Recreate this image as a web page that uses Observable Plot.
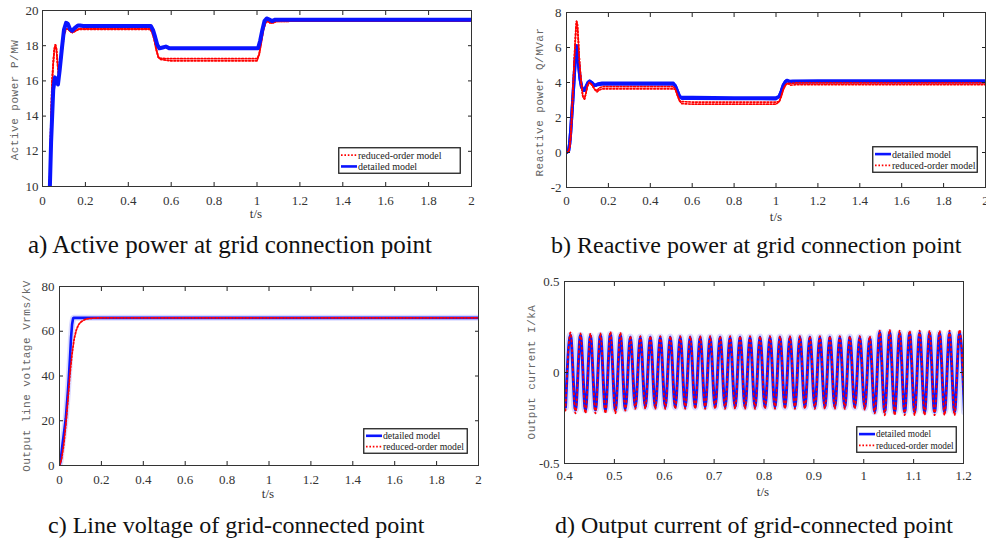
<!DOCTYPE html>
<html><head><meta charset="utf-8">
<script src="https://cdn.jsdelivr.net/npm/d3@7"></script>
<script src="https://cdn.jsdelivr.net/npm/@observablehq/plot@0.6"></script>
<style>
body{margin:0;background:#fff;}
#root{position:relative;width:986px;height:541px;overflow:hidden;background:#fff;font-family:"Liberation Serif","Times New Roman",serif;}
.panel{position:absolute;}
.panel svg{overflow:visible;}
.ylab{position:absolute;font-family:"Liberation Mono","DejaVu Sans Mono",monospace;font-size:11px;letter-spacing:0.5px;color:#666;white-space:nowrap;transform:translate(-50%,-50%) rotate(-90deg);}
.xlab{position:absolute;font-size:13px;color:#333;transform:translate(-50%,-50%);white-space:nowrap;}
.cap{position:absolute;font-size:24px;color:#111;white-space:nowrap;transform:translateY(-50%);}
.leg{position:absolute;}
</style></head>
<body>
<div id="root"></div>
<script>
// ---------- Panel a: active power ----------
const aTimeDetailed = [0.03,0.04,0.05,0.058,0.066,0.072,0.08,0.09,0.1,0.11,0.118,0.128,0.138,0.15,0.165,0.175,0.19,0.3,0.4,0.505,0.515,0.525,0.535,0.545,0.56,0.575,0.59,0.7,0.8,0.9,1.005,1.015,1.025,1.035,1.045,1.055,1.07,1.085,1.1,1.5,2.0];
const aDetailed     = [8,12.5,15.5,16.2,15.9,15.8,16.6,17.8,18.9,19.3,19.25,18.95,18.85,19.0,19.15,19.15,19.12,19.12,19.12,19.12,18.9,18.5,18.05,17.85,17.9,17.95,17.86,17.86,17.86,17.86,17.86,18.3,18.9,19.4,19.55,19.5,19.4,19.48,19.48,19.48,19.48];
const aTimeReduced  = [0.028,0.035,0.04,0.045,0.05,0.055,0.06,0.065,0.07,0.075,0.08,0.09,0.1,0.11,0.12,0.13,0.14,0.155,0.17,0.3,0.4,0.5,0.51,0.52,0.53,0.54,0.55,0.6,0.7,0.8,0.9,1.0,1.01,1.02,1.03,1.04,1.05,1.06,1.075,1.09,1.2,2.0];
const aReduced      = [8,11,14.0,16.0,17.0,17.8,18.05,17.8,17.0,16.4,16.5,17.6,18.6,18.95,18.95,18.8,18.75,18.85,18.95,18.95,18.95,18.95,18.8,18.4,17.8,17.35,17.25,17.2,17.2,17.2,17.2,17.2,17.5,18.2,18.9,19.3,19.4,19.3,19.3,19.38,19.4,19.4];
const aRippleReduced= [0,0,0,0,0,0,0,0,0,0,0,0,0,0,0,0,0,0,0.02,0.02,0.02,0.02,0,0,0,0,0.03,0.06,0.06,0.06,0.06,0.06,0,0,0,0,0,0,0,0,0,0];

// ---------- Panel b: reactive power ----------
const bTimeDetailed = [0,0.01,0.015,0.02,0.025,0.03,0.035,0.04,0.045,0.048,0.052,0.058,0.065,0.072,0.08,0.086,0.095,0.103,0.11,0.12,0.13,0.138,0.15,0.17,0.3,0.4,0.51,0.52,0.53,0.54,0.55,0.6,0.8,1.0,1.015,1.025,1.035,1.045,1.053,1.065,1.08,1.2,2.0];
const bDetailed     = [0,0.1,0.5,1.2,2.1,3.0,4.0,5.0,5.8,6.1,5.9,5.0,4.2,3.75,3.55,3.55,3.8,4.0,4.08,4.0,3.88,3.83,3.9,3.93,3.93,3.93,3.93,3.8,3.5,3.2,3.12,3.12,3.1,3.1,3.2,3.5,3.85,4.05,4.12,4.05,4.05,4.06,4.06];
const bRippleDetailed=[0,0,0,0,0,0,0,0,0,0,0,0,0,0,0,0,0,0,0,0,0,0,0.02,0.03,0.03,0.03,0.03,0,0,0,0.03,0.03,0.03,0.03,0,0,0,0,0,0.02,0.03,0.03,0.03];
const bTimeReduced  = [0,0.01,0.015,0.02,0.025,0.03,0.035,0.04,0.045,0.048,0.052,0.056,0.062,0.07,0.078,0.086,0.093,0.1,0.108,0.115,0.125,0.135,0.146,0.155,0.17,0.3,0.4,0.51,0.52,0.53,0.54,0.55,0.6,0.8,1.0,1.015,1.025,1.035,1.045,1.055,1.07,1.1,2.0];
const bReduced      = [0,0.05,0.3,0.9,2.0,3.3,4.7,6.0,7.1,7.5,7.3,6.5,5.2,4.0,3.2,3.05,3.4,3.8,4.0,3.95,3.8,3.6,3.5,3.62,3.7,3.7,3.7,3.7,3.6,3.25,2.95,2.85,2.82,2.82,2.82,2.9,3.2,3.6,3.85,3.95,3.9,3.93,3.93];
const bRippleReduced= [0,0,0,0,0,0,0,0,0,0,0,0,0,0,0,0,0,0,0,0,0,0,0.04,0.06,0.06,0.06,0.06,0.06,0,0,0,0.06,0.06,0.06,0.06,0,0,0,0,0,0.05,0.05,0.05];

// ---------- Panel c: line voltage ----------
const cTimeDetailed = [0,0.005,0.01,0.015,0.02,0.03,0.04,0.045,0.05,0.055,0.06,0.065,0.068,0.1,0.5,1.0,2.0];
const cDetailed     = [0,2,6,10,13.5,21,33,40,48,57,63,65.8,66,66,66,66,66];
const cTimeReduced  = [0,0.01,0.02,0.03,0.04,0.05,0.06,0.07,0.08,0.09,0.1,0.12,0.14,0.17,0.2,1.0,2.0];
const cReduced      = [0,3,9,18,29,41,50,56.5,60.5,62.8,64,65.2,65.7,65.9,66,66,66];

// ---------- Panel d: output current (extrema of each half cycle) ----------
const dFirstExtremumTime = 0.402;   // first trough
const dHalfPeriod = 0.01;           // 50 Hz
const dTroughsDetailed = [-0.19,
  -0.205,-0.205,-0.205,-0.205,-0.205,
  -0.2,
  -0.19,-0.19,-0.19,-0.19,-0.19,-0.19,-0.19,-0.19,-0.19,-0.19,-0.19,-0.19,
  -0.19,-0.19,-0.19,-0.19,-0.19,-0.19,-0.19,-0.19,-0.19,-0.19,-0.19,-0.195,
  -0.215,
  -0.215,-0.215,-0.215,-0.215,-0.215,-0.215,-0.215,-0.215,-0.215];
const dPeaksDetailed = [0.205,0.205,0.2,0.205,0.21,0.205,
  0.195,0.195,0.195,0.195,0.195,0.195,0.195,0.195,0.195,0.195,0.195,0.195,
  0.195,0.195,0.195,0.195,0.195,0.195,0.195,0.195,0.195,0.195,0.195,0.195,0.19,
  0.22,0.22,0.215,0.215,0.215,0.215,0.215,0.215,0.215];
const dTroughsReduced = [-0.21,
  -0.225,-0.225,-0.225,-0.225,-0.225,
  -0.21,
  -0.2,-0.2,-0.2,-0.2,-0.2,-0.2,-0.2,-0.2,-0.2,-0.2,-0.2,-0.2,
  -0.2,-0.2,-0.2,-0.2,-0.2,-0.2,-0.2,-0.2,-0.2,-0.2,-0.2,-0.205,
  -0.225,
  -0.235,-0.235,-0.235,-0.235,-0.235,-0.235,-0.235,-0.235,-0.235];
const dPeaksReduced = [0.22,0.215,0.215,0.215,0.225,0.22,
  0.2,0.2,0.2,0.2,0.2,0.2,0.2,0.2,0.2,0.2,0.2,0.2,
  0.2,0.2,0.2,0.2,0.2,0.2,0.2,0.2,0.2,0.2,0.2,0.2,0.2,
  0.23,0.235,0.23,0.23,0.23,0.23,0.23,0.23,0.235];

// ---------- ticks & labels ----------
const xTicks02 = [0,0.2,0.4,0.6,0.8,1,1.2,1.4,1.6,1.8,2];
const xTicksD  = [0.4,0.5,0.6,0.7,0.8,0.9,1,1.1,1.2];
const yTicksA = [10,12,14,16,18,20];
const yTicksB = [-2,0,2,4,6,8];
const yTicksC = [0,20,40,60,80];
const yTicksD = [-0.5,0,0.5];
const seriesNames = {detailed: "detailed model", reduced: "reduced-order model"};
const yLabels = ["Active power P/MW","Reactive power Q/MVar","Output line voltage Vrms/kV","Output current I/kA"];
const captions = ["a) Active power at grid connection point","b) Reactive power at grid connection point","c) Line voltage of grid-connected point","d) Output current of grid-connected point"];

const BLUE = "#0a14ff", RED = "#ff0000";
const RED_DASH = "1.6,1.8";
const root = document.getElementById("root");

function rows(ts, vs, rs) { return ts.map((t, i) => ({t, v: vs[i], r: rs ? rs[i] : 0})); }
function waveRows(troughs, peaks) {
  const out = [];
  for (let i = 0; i < troughs.length + peaks.length; i++) {
    const v = i % 2 === 0 ? troughs[i / 2] : peaks[(i - 1) / 2];
    out.push({t: dFirstExtremumTime + i * dHalfPeriod, v, r: 0});
  }
  return out;
}

function makePanel(cfg) {
  const fmt = d => String(d);
  const marks = [];
  const lineOpts = {x: "t", clip: true, curve: cfg.curve || "linear"};
  const drawSeries = (data, style) => {
    if (data.some(d => d.r > 0)) {
      marks.push(Plot.line(data, {...lineOpts, y: d => d.v + d.r, ...style}));
      marks.push(Plot.line(data, {...lineOpts, y: d => d.v - d.r, ...style}));
    } else {
      marks.push(Plot.line(data, {...lineOpts, y: "v", ...style}));
    }
  };
  const blue = () => {
    if (cfg.halo) marks.push(Plot.line(cfg.det, {...lineOpts, y: "v", stroke: "#7070ff", strokeOpacity: 0.25, strokeWidth: cfg.halo}));
    drawSeries(cfg.det, {stroke: BLUE, strokeWidth: cfg.blueWidth || 3.5});
  };
  const red = () => drawSeries(cfg.red, {stroke: RED, strokeWidth: cfg.redWidth || 1.7, strokeDasharray: cfg.redDash || RED_DASH});
  if (cfg.redFirst) { red(); blue(); } else { blue(); red(); }
  marks.push(
    Plot.axisX(cfg.xTicks, {anchor: "bottom", tickSize: -4, tickPadding: cfg.xPad, tickFormat: fmt, label: null, stroke: "#222"}),
    Plot.axisX(cfg.xTicks, {anchor: "top", tickSize: -4, tickFormat: () => "", label: null, stroke: "#222"}),
    Plot.axisY(cfg.yTicks, {anchor: "left", tickSize: -4, tickPadding: cfg.yPad, tickFormat: fmt, label: null, stroke: "#222"}),
    Plot.axisY(cfg.yTicks, {anchor: "right", tickSize: -4, tickFormat: () => "", label: null, stroke: "#222"}),
    Plot.frame({stroke: "#333", strokeWidth: 1})
  );
  const chart = Plot.plot({
    width: cfg.w, height: cfg.h,
    marginLeft: cfg.m[0], marginRight: cfg.m[1], marginTop: cfg.m[2], marginBottom: cfg.m[3],
    x: {domain: cfg.xDomain},
    y: {domain: cfg.yDomain},
    style: {fontFamily: "'Liberation Serif','Times New Roman',serif", fontSize: "13px", color: "#333", background: "transparent", overflow: "visible"},
    marks
  });
  const div = document.createElement("div");
  div.className = "panel";
  div.style.left = cfg.left + "px"; div.style.top = cfg.top + "px";
  div.appendChild(chart);
  root.appendChild(div);
}

function addText(cls, text, x, y, size) {
  const d = document.createElement("div");
  d.className = cls; d.textContent = text;
  d.style.left = x + "px"; d.style.top = y + "px";
  if (size) d.style.fontSize = size + "px";
  root.appendChild(d);
}

function addLegend(box, order, fontSize) {
  const [x, y, w, h] = box;
  const svg = d3.create("svg").attr("width", w).attr("height", h).attr("class", "leg")
    .style("left", x + "px").style("top", y + "px");
  svg.append("rect").attr("x", 0.75).attr("y", 0.75).attr("width", w - 1.5).attr("height", h - 1.5)
    .attr("fill", "#fff").attr("stroke", "#222").attr("stroke-width", 1.3);
  order.forEach((key, i) => {
    const cy = h * (i === 0 ? 0.3 : 0.72);
    const line = svg.append("line").attr("x1", 3).attr("x2", 19).attr("y1", cy).attr("y2", cy);
    if (key === "detailed") line.attr("stroke", BLUE).attr("stroke-width", 2.6);
    else line.attr("stroke", RED).attr("stroke-width", 1.8).attr("stroke-dasharray", RED_DASH);
    svg.append("text").attr("x", 20).attr("y", cy).attr("dy", "0.35em")
      .attr("font-family", "'Liberation Serif','Times New Roman',serif").attr("font-size", fontSize)
      .attr("fill", "#222").text(seriesNames[key]);
  });
  root.appendChild(svg.node());
}

// Panel a (reduced-order plotted first, detailed on top)
makePanel({left: 0, top: 0, w: 480, h: 222, m: [42, 9, 10, 36], xDomain: [0, 2], yDomain: [10, 20],
  xTicks: xTicks02, yTicks: yTicksA, xPad: 13, yPad: 8, blueWidth: 4, redWidth: 1.8, redFirst: true,
  det: rows(aTimeDetailed, aDetailed), red: rows(aTimeReduced, aReduced, aRippleReduced)});
// Panel b
makePanel({left: 500, top: 0, w: 486, h: 222, m: [66, 1, 12, 35], xDomain: [0, 2], yDomain: [-2, 8],
  xTicks: xTicks02, yTicks: yTicksB, xPad: 12, yPad: 9, blueWidth: 3.2, redWidth: 1.7,
  det: rows(bTimeDetailed, bDetailed, bRippleDetailed), red: rows(bTimeReduced, bReduced, bRippleReduced)});
// Panel c
makePanel({left: 0, top: 270, w: 486, h: 222, m: [59, 8, 16, 27], xDomain: [0, 2], yDomain: [0, 80],
  xTicks: xTicks02, yTicks: yTicksC, xPad: 13, yPad: 9, blueWidth: 2.6, halo: 6, redWidth: 1.8,
  det: rows(cTimeDetailed, cDetailed), red: rows(cTimeReduced, cReduced)});
// Panel d
makePanel({left: 500, top: 270, w: 486, h: 222, m: [64, 23, 11, 29], xDomain: [0.4, 1.2], yDomain: [-0.5, 0.5],
  xTicks: xTicksD, yTicks: yTicksD, xPad: 11, yPad: 9, blueWidth: 3, halo: 7, curve: "monotone-x",
  redWidth: 1.7, redDash: "1.6,3.2",
  det: waveRows(dTroughsDetailed, dPeaksDetailed), red: waveRows(dTroughsReduced, dPeaksReduced)});

// axis labels
addText("ylab", yLabels[0], 15, 100);
addText("ylab", yLabels[1], 540, 102);
addText("ylab", yLabels[2], 27, 376);
addText("ylab", yLabels[3], 532, 372);
addText("xlab", "t/s", 256, 214);
addText("xlab", "t/s", 776, 217);
addText("xlab", "t/s", 268, 494);
addText("xlab", "t/s", 763, 492);
// captions
addText("cap", captions[0], 28, 245, 25);
addText("cap", captions[1], 551, 245);
addText("cap", captions[2], 48, 525);
addText("cap", captions[3], 555, 525);
// legends
addLegend([338, 147, 123, 27], ["reduced", "detailed"], 10);
addLegend([872, 146, 106, 27], ["detailed", "reduced"], 10);
addLegend([363, 428, 105, 26], ["detailed", "reduced"], 9.7);
addLegend([856, 426, 101, 27], ["detailed", "reduced"], 9.3);
</script>
</body></html>
